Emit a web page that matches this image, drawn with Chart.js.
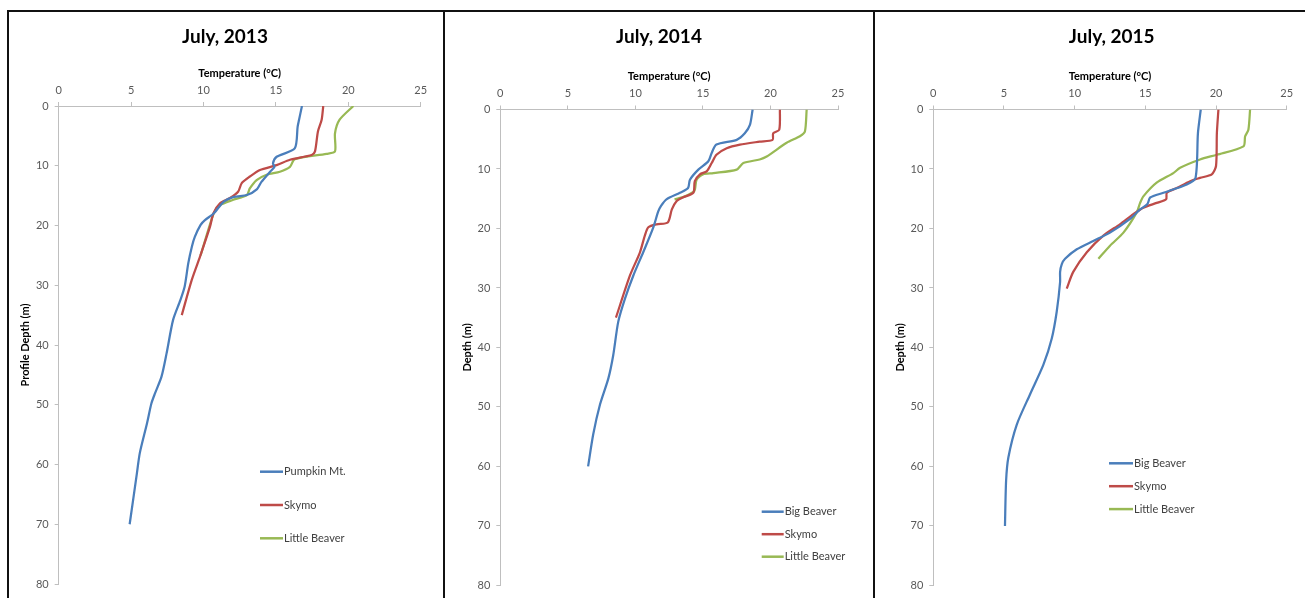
<!DOCTYPE html>
<html>
<head>
<meta charset="utf-8">
<script src="https://cdn.jsdelivr.net/npm/chart.js@4.4.1/dist/chart.umd.min.js"></script>
<style>
  html, body { margin: 0; padding: 0; background: #fff; overflow: hidden; width: 1305px; height: 598px; }
  .panel { position: absolute; top: 10px; height: 620px; box-sizing: border-box; border: 2px solid #111; }
  canvas { position: absolute; top: 13px; }
</style>
</head>
<body>
<div class="panel" style="left:7px;width:438px"></div>
<div class="panel" style="left:443px;width:432px"></div>
<div class="panel" style="left:873px;width:500px"></div>
<canvas id="c2013" width="430" height="585" style="left:10px"></canvas>
<canvas id="c2014" width="426" height="585" style="left:446px"></canvas>
<canvas id="c2015" width="472" height="585" style="left:876px"></canvas>
<script>
// July 2013
const pumpkin13Depth = [0, 2.3, 3.5, 7.1, 8.5, 9.6, 10.2, 11, 12.7, 13.9, 14.9, 15.2, 16.0, 18, 19.1, 19.9, 21.9, 23.5, 26.3, 30.2, 32.5, 35.8, 41.4, 45.3, 48.1, 49.8, 53.1, 58.1, 61.5, 70];
const pumpkin13Temp  = [16.8, 16.6, 16.5, 16.3, 15.05, 14.8, 14.9, 14.6, 14.0, 13.7, 13.0, 12.1, 11.4, 10.7, 10.1, 9.8, 9.4, 9.2, 8.95, 8.7, 8.4, 7.9, 7.45, 7.1, 6.65, 6.4, 6.1, 5.6, 5.4, 4.9];
const skymo13Depth = [0, 2.3, 4.3, 7.6, 8.2, 9.0, 9.9, 10.7, 11.8, 12.9, 14.3, 15.4, 16.3, 18, 20.2, 25.2, 29.1, 35];
const skymo13Temp  = [18.27, 18.16, 17.9, 17.7, 17.47, 15.97, 15.05, 13.9, 13.2, 12.64, 12.4, 11.83, 11.14, 10.68, 10.45, 9.76, 9.19, 8.5];
const little13Depth = [0, 2.3, 4.6, 7.6, 8.0, 8.9, 10.2, 11, 11.5, 12.4, 13.8, 14.9, 15.7, 16.6, 18, 25];
const little13Temp  = [20.35, 19.4, 19.08, 19.08, 18.5, 16.3, 15.97, 15.28, 14.36, 13.67, 13.2, 13.0, 12.06, 11.14, 10.7, 9.8];

// July 2014
const big14Depth = [0, 2.6, 4.0, 5.1, 5.9, 7.3, 8.7, 10.1, 11.8, 13.2, 14.0, 15.1, 16.2, 17.1, 20, 24, 27.9, 31.8, 35.7, 41.3, 45.2, 49.6, 54.6, 60];
const big14Temp  = [18.68, 18.48, 18.1, 17.5, 16.0, 15.65, 15.4, 14.66, 14.04, 13.9, 13.3, 12.3, 11.9, 11.7, 11.3, 10.58, 9.85, 9.23, 8.73, 8.36, 8.0, 7.38, 6.88, 6.5];
const skymo14Depth = [0, 3.4, 4.0, 5.1, 5.4, 5.9, 6.5, 7.6, 9.0, 10.4, 10.9, 12.05, 14.0, 14.8, 15.4, 16.8, 19.0, 19.3, 19.8, 21.2, 24, 27.9, 35];
const skymo14Temp  = [20.7, 20.65, 20.2, 20.16, 19.2, 17.74, 16.76, 16.0, 15.65, 15.28, 14.78, 14.4, 14.29, 13.5, 13.06, 12.7, 12.4, 11.57, 10.96, 10.7, 10.34, 9.6, 8.56];
const little14Depth = [0, 3.7, 4.5, 5.6, 7.9, 8.4, 9.0, 10.1, 10.7, 10.9, 11.8, 13.7, 14.6, 15.1];
const little14Temp  = [22.68, 22.55, 22.18, 21.2, 19.72, 19.2, 17.99, 17.5, 15.77, 15.0, 14.53, 14.36, 13.67, 12.9];

// July 2015
const big15Depth = [0, 4.0, 11.5, 12.6, 14.0, 14.8, 15.9, 16.8, 18.4, 20.7, 22.1, 23.5, 25.1, 26, 27.3, 29, 34, 38.5, 42.9, 47.9, 53, 58.5, 62.4, 70];
const big15Temp  = [18.92, 18.72, 18.55, 17.93, 16.28, 15.34, 15.15, 14.63, 13.92, 12.5, 11.32, 10.15, 9.32, 9.09, 8.97, 8.97, 8.73, 8.38, 7.79, 6.84, 5.9, 5.31, 5.15, 5.07];
const skymo15Depth = [0, 4, 9.5, 10.9, 11.5, 12.05, 13.2, 14.0, 15.1, 15.7, 16.5, 17.6, 19.3, 21.2, 24, 27.3, 30.1];
const skymo15Temp  = [20.17, 20.06, 20.0, 19.7, 18.87, 18.17, 17.22, 16.52, 16.47, 15.8, 14.86, 14.15, 13.2, 12.03, 10.86, 9.9, 9.44];
const little15Depth = [0, 3.4, 4.5, 6.2, 7.6, 8.4, 9.8, 10.7, 12.3, 14.6, 15.7, 17.3, 20.7, 22.9, 25.1];
const little15Temp  = [22.41, 22.29, 22.06, 21.94, 20.06, 18.87, 17.46, 16.98, 15.8, 14.86, 14.63, 14.39, 13.45, 12.5, 11.68];

const tempTicks = [0, 5, 10, 15, 20, 25];
const depthTicks = [0, 10, 20, 30, 40, 50, 60, 70, 80];

const BLUE = '#4a7ebb', RED = '#be4b48', GREEN = '#98b954';
const AXIS = '#bfbfbf';

const pairs = (t, d) => t.map((v, i) => ({ x: v, y: d[i] }));

// title drawn at a fixed centre (chart.js centres it on the padded width)
const panelTitle = {
  id: 'panelTitle',
  afterDraw(chart, args, o) {
    const ctx = chart.ctx;
    ctx.save();
    ctx.font = 'bold 19px Lato';
    ctx.fillStyle = '#000';
    ctx.textAlign = 'center';
    ctx.textBaseline = 'middle';
    ctx.fillText(o.text, o.x, o.y);
    ctx.restore();
  }
};

// legend drawn as short line samples stacked inside the plot
const lineLegend = {
  id: 'lineLegend',
  afterDraw(chart, args, o) {
    const ctx = chart.ctx;
    ctx.save();
    ctx.font = '11px Lato';
    ctx.textBaseline = 'middle';
    chart.data.datasets.forEach((ds, i) => {
      const y = o.y + i * o.gap;
      ctx.strokeStyle = ds.borderColor;
      ctx.lineWidth = 2.5;
      ctx.beginPath();
      ctx.moveTo(o.x, y);
      ctx.lineTo(o.x + o.len, y);
      ctx.stroke();
      ctx.fillStyle = '#404040';
      ctx.fillText(ds.label, o.x + o.len + 1, y);
    });
    ctx.restore();
  }
};

function makeChart(id, title, yTitle, series, lay) {
  const titleH = 35.4;
  new Chart(document.getElementById(id), {
    type: 'scatter',
    data: {
      datasets: series.map(s => ({
        label: s.label,
        data: pairs(s.temp, s.depth),
        borderColor: s.color,
        backgroundColor: s.color,
        borderWidth: 2.25,
        showLine: true,
        pointRadius: 0,
        tension: 0.25
      }))
    },
    options: {
      responsive: false,
      animation: false,
      layout: { padding: { left: 0, top: titleH, right: lay.padR, bottom: lay.padB } },
      plugins: {
        legend: { display: false },
        tooltip: { enabled: false },
        title: { display: false },
        panelTitle: { text: title, x: lay.titleX, y: 24 },
        lineLegend: lay.legend
      },
      scales: {
        x: {
          type: 'linear',
          position: 'top',
          min: 0, max: 25,
          afterBuildTicks: s => { s.ticks = tempTicks.map(v => ({ value: v })); },
          afterFit: s => { s.height = lay.areaTop - titleH; },
          ticks: { color: '#595959', font: { family: 'Lato', size: 11 }, padding: 5, maxRotation: 0 },
          grid: { drawOnChartArea: false, drawTicks: true, tickLength: 4, color: AXIS },
          border: { color: AXIS },
          title: {
            display: true, text: 'Temperature (°C)', color: '#000',
            font: { family: 'Lato', size: 11, weight: 'bold', lineHeight: 1.2 },
            padding: { top: lay.xTitleY - titleH - 6.6, bottom: 0 }
          }
        },
        y: {
          type: 'linear',
          reverse: true,
          min: 0, max: 80,
          afterBuildTicks: s => { s.ticks = depthTicks.map(v => ({ value: v })); },
          afterFit: s => { s.width = lay.areaLeft; },
          ticks: { color: '#595959', font: { family: 'Lato', size: 11 }, padding: 6 },
          grid: { drawOnChartArea: false, drawTicks: true, tickLength: 4, color: AXIS },
          border: { color: AXIS },
          title: {
            display: true, text: yTitle, color: '#000',
            font: { family: 'Lato', size: 11, weight: 'bold', lineHeight: 1.2 },
            padding: { top: lay.yTitleX - 6.6, bottom: 0 }
          }
        }
      }
    },
    plugins: [panelTitle, lineLegend]
  });
}

makeChart('c2013', 'July, 2013', 'Profile Depth (m)', [
  { label: 'Pumpkin Mt.', temp: pumpkin13Temp, depth: pumpkin13Depth, color: BLUE },
  { label: 'Skymo', temp: skymo13Temp, depth: skymo13Depth, color: RED },
  { label: 'Little Beaver', temp: little13Temp, depth: little13Depth, color: GREEN }
], { titleX: 215, areaTop: 93, areaLeft: 48.7, padR: 19.3, padB: 14, xTitleY: 60, yTitleX: 15.5,
     legend: { x: 250, y: 458.7, gap: 33.3, len: 23 } });

makeChart('c2014', 'July, 2014', 'Depth (m)', [
  { label: 'Big Beaver', temp: big14Temp, depth: big14Depth, color: BLUE },
  { label: 'Skymo', temp: skymo14Temp, depth: skymo14Depth, color: RED },
  { label: 'Little Beaver', temp: little14Temp, depth: little14Depth, color: GREEN }
], { titleX: 213, areaTop: 96.5, areaLeft: 54.3, padR: 34, padB: 9, xTitleY: 63, yTitleX: 21.7,
     legend: { x: 315.7, y: 498.7, gap: 22.5, len: 22 } });

makeChart('c2015', 'July, 2015', 'Depth (m)', [
  { label: 'Big Beaver', temp: big15Temp, depth: big15Depth, color: BLUE },
  { label: 'Skymo', temp: skymo15Temp, depth: skymo15Depth, color: RED },
  { label: 'Little Beaver', temp: little15Temp, depth: little15Depth, color: GREEN }
], { titleX: 235.7, areaTop: 96.5, areaLeft: 57.3, padR: 61.3, padB: 9, xTitleY: 63, yTitleX: 24,
     legend: { x: 233, y: 450.3, gap: 22.9, len: 24 } });
</script>
</body>
</html>
